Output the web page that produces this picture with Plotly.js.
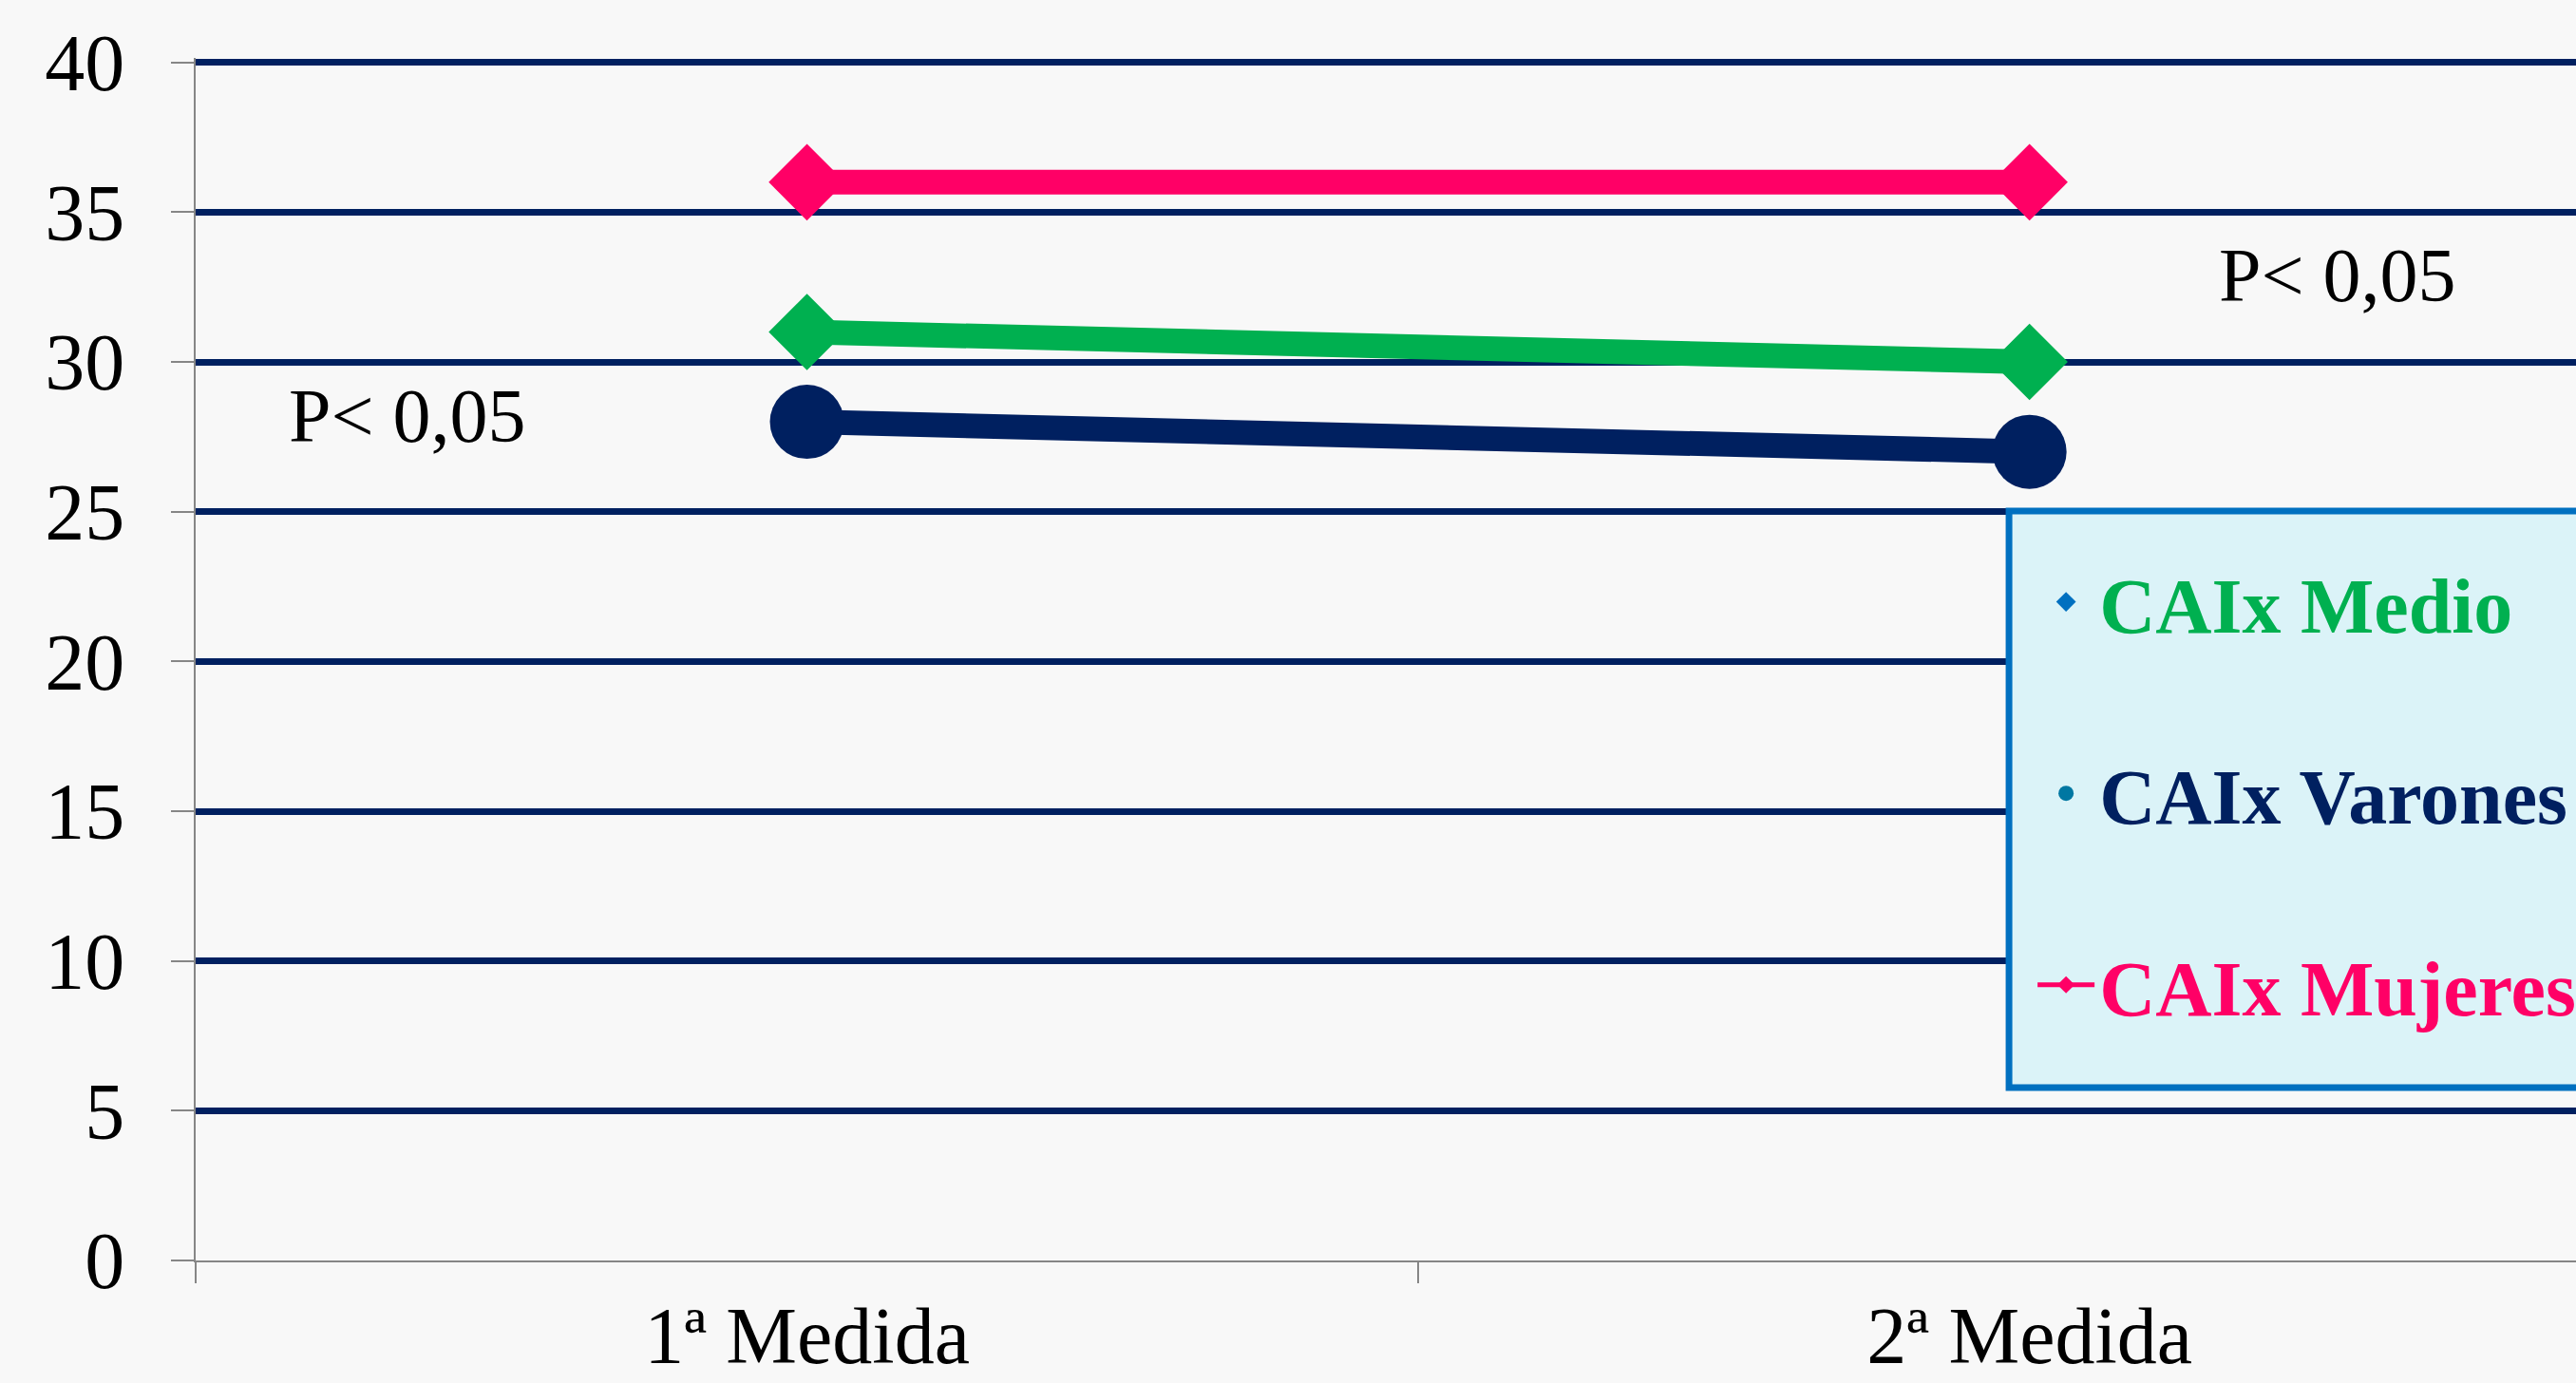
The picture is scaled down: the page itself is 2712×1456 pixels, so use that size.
<!DOCTYPE html>
<html>
<head>
<meta charset="utf-8">
<script src="https://cdn.plot.ly/plotly-3.0.1.min.js"></script>
<style>
html, body { margin: 0; padding: 0; overflow: hidden; background: #F8F8F8; }
#chart { width: 2712px; height: 1456px; }
</style>
</head>
<body>
<div id="chart"></div>
<script>
// ---- Data ----
const categories = ['1ª Medida', '2ª Medida'];
const caixMedio = [31, 30];
const caixVarones = [28, 27];
const caixMujeres = [36, 36];
const seriesNames = ['CAIx Medio', 'CAIx Varones', 'CAIx Mujeres'];
const yTickValues = [0, 5, 10, 15, 20, 25, 30, 35, 40];
const pValueText = 'P< 0,05';

// ---- Styles ----
const green = '#00B050';
const navy = '#002060';
const pink = '#FF0066';
const lineW = 26;

const traces = [
  {
    x: categories, y: caixMedio, type: 'scatter', mode: 'lines+markers',
    name: seriesNames[0], showlegend: false,
    line: {color: green, width: lineW},
    marker: {symbol: 'diamond', size: 62, color: green}
  },
  {
    x: categories, y: caixVarones, type: 'scatter', mode: 'lines+markers',
    name: seriesNames[1], showlegend: false,
    line: {color: navy, width: lineW},
    marker: {symbol: 'circle', size: 78, color: navy}
  },
  {
    x: categories, y: caixMujeres, type: 'scatter', mode: 'lines+markers',
    name: seriesNames[2], showlegend: false,
    line: {color: pink, width: lineW},
    marker: {symbol: 'diamond', size: 62, color: pink}
  },
  // legend entries (styled like the original legend keys)
  {
    x: [null], y: [null], type: 'scatter', mode: 'markers', legendgroup: 'g1',
    name: '<span style="color:' + green + '">' + seriesNames[0] + '</span>',
    marker: {symbol: 'diamond', size: 40, color: '#0070C0'}
  },
  {
    x: [null], y: [null], type: 'scatter', mode: 'markers', legendgroup: 'g2',
    name: '<span style="color:' + navy + '">' + seriesNames[1] + '</span>',
    marker: {symbol: 'circle', size: 40, color: '#0077A2'}
  },
  {
    x: [null], y: [null], type: 'scatter', mode: 'lines+markers', legendgroup: 'g3',
    name: '<span style="color:' + pink + '">' + seriesNames[2] + '</span>',
    line: {color: pink, width: 5},
    marker: {symbol: 'diamond', size: 14, color: pink}
  }
];

const gray = '#868686';

const layout = {
  width: 2712, height: 1456,
  margin: {l: 206, r: 0, t: 61, b: 129, pad: 0, autoexpand: false},
  paper_bgcolor: '#F8F8F8',
  plot_bgcolor: '#F8F8F8',
  font: {family: 'Liberation Serif', color: '#000000'},
  xaxis: {
    type: 'category',
    range: [-0.5, 1.447],
    tickson: 'boundaries',
    ticks: 'outside', ticklen: 22, tickwidth: 2, tickcolor: gray,
    showline: true, linecolor: gray, linewidth: 2,
    showgrid: false, zeroline: false,
    tickfont: {family: 'Liberation Serif', size: 84, color: '#000000'},
    ticklabelstandoff: 5
  },
  yaxis: {
    range: [0, 40.15],
    tickmode: 'array', tickvals: yTickValues,
    ticktext: yTickValues.map(String),
    ticks: 'outside', ticklen: 24, tickwidth: 2, tickcolor: gray,
    showline: true, linecolor: gray, linewidth: 2,
    showgrid: true, gridcolor: navy, gridwidth: 7,
    zeroline: true, zerolinecolor: gray, zerolinewidth: 2,
    tickfont: {family: 'Liberation Serif', size: 84, color: '#000000'},
    ticklabelstandoff: 32
  },
  shapes: [
    {
      type: 'rect', xref: 'paper', yref: 'paper', layer: 'above',
      x0: 0.7618, x1: 1.03, y0: 0.1438, y1: 0.6232,
      fillcolor: '#DBF3F8',
      line: {color: '#0070C0', width: 7}
    }
  ],
  legend: {
    x: 0.7718, xref: 'paper', xanchor: 'left',
    y: 0.5950, yref: 'paper', yanchor: 'top',
    bgcolor: 'rgba(0,0,0,0)', borderwidth: 0,
    font: {family: 'Liberation Serif', size: 82, weight: 'bold'},
    traceorder: 'grouped', tracegroupgap: 92,
    itemwidth: 60
  },
  annotations: [
    {
      xref: 'paper', yref: 'paper', x: 0.089, y: 0.7026,
      xanchor: 'center', yanchor: 'middle', showarrow: false,
      text: pValueText,
      font: {family: 'Liberation Serif', size: 80, color: '#000000'}
    },
    {
      xref: 'paper', yref: 'paper', x: 0.900, y: 0.819,
      xanchor: 'center', yanchor: 'middle', showarrow: false,
      text: pValueText,
      font: {family: 'Liberation Serif', size: 80, color: '#000000'}
    }
  ],
  showlegend: true
};

Plotly.newPlot('chart', traces, layout, {displayModeBar: false, staticPlot: true});
</script>
</body>
</html>
